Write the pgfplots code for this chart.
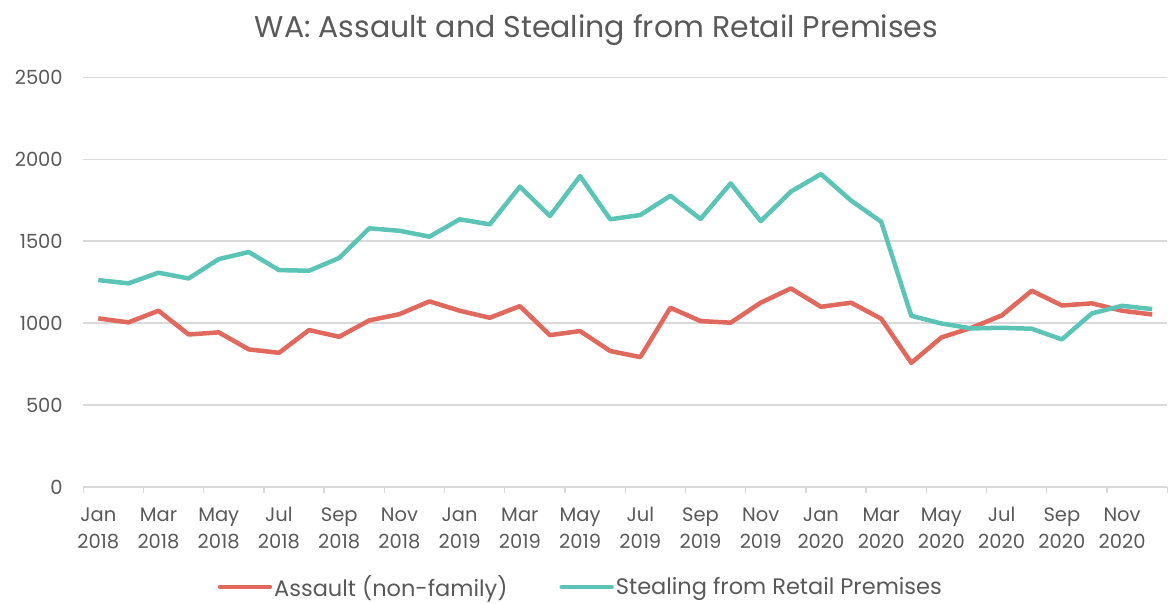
\documentclass[border=0pt]{standalone}
\usepackage{fontspec}
\setmainfont{Poppins}
\usepackage{pgfplots}
\pgfplotsset{compat=1.18}
\definecolor{redline}{RGB}{224,104,92}
\definecolor{tealline}{RGB}{91,196,183}
\definecolor{txtgray}{RGB}{89,89,89}
\definecolor{gridgray}{RGB}{217,217,217}
\begin{document}
\begin{tikzpicture}
\begin{axis}[
  at={(0pt,0pt)}, anchor=south west,
  scale only axis,
  width=1085pt, height=410pt,
  xmin=-0.5, xmax=35.5,
  ymin=0, ymax=2500,
  ytick={0,500,1000,1500,2000,2500},
  xtick={0,2,...,34},
  xticklabels={\strut Jan\\\strut 2018,\strut Mar\\\strut 2018,\strut May\\\strut 2018,\strut Jul\\\strut 2018,\strut Sep\\\strut 2018,\strut Nov\\\strut 2018,\strut Jan\\\strut 2019,\strut Mar\\\strut 2019,\strut May\\\strut 2019,\strut Jul\\\strut 2019,\strut Sep\\\strut 2019,\strut Nov\\\strut 2019,\strut Jan\\\strut 2020,\strut Mar\\\strut 2020,\strut May\\\strut 2020,\strut Jul\\\strut 2020,\strut Sep\\\strut 2020,\strut Nov\\\strut 2020},
  major tick length=0pt,
  extra x ticks={-0.5,1.5,...,35.5},
  extra x tick labels={},
  extra x tick style={major tick length=6pt, tick style={gridgray, line width=1.3pt}, tick align=outside, grid=none},
  axis x line*=bottom,
  axis y line*=left,
  y axis line style={draw=none},
  x axis line style={gridgray, line width=1.5pt, -},
  ymajorgrids,
  grid style={gridgray, line width=1.3pt},
  tick label style={font=\fontsize{19.5}{27}\selectfont, text=txtgray},
  xticklabel style={align=center, anchor=north, yshift=-16pt, inner sep=0pt},
  yticklabel style={xshift=-17pt},
  /pgf/number format/1000 sep={},
  /pgf/number format/assume math mode=true,
  title={WA: Assault and Stealing from Retail Premises},
  title style={at={(0.4735,1)}, anchor=center, yshift=41pt, font=\fontsize{30}{34}\selectfont, text=txtgray},
  legend style={at={(0.459,0)}, anchor=center, yshift=-100pt, draw=none, fill=none,
    font=\fontsize{22.5}{26}\selectfont, text=txtgray, legend columns=2,
    /tikz/every even column/.append style={column sep=50pt}},
  legend image code/.code={\draw[#1, line cap=round] (0pt,0pt) -- (50pt,0pt);},
  clip=false,
]
\addplot[redline, line width=4.5pt, line join=round] coordinates {
(0,1028)(1,1004)(2,1075)(3,930)(4,943)(5,839)(6,818)(7,957)(8,916)(9,1016)
(10,1054)(11,1132)(12,1075)(13,1032)(14,1103)(15,926)(16,951)(17,829)(18,792)(19,1093)
(20,1012)(21,1002)(22,1124)(23,1211)(24,1099)(25,1124)(26,1026)(27,757)(28,912)(29,971)
(30,1046)(31,1197)(32,1107)(33,1120)(34,1075)(35,1052)};
\addlegendentry{Assault (non-family)}
\addplot[tealline, line width=4.5pt, line join=round] coordinates {
(0,1262)(1,1242)(2,1307)(3,1272)(4,1390)(5,1433)(6,1323)(7,1319)(8,1397)(9,1578)
(10,1563)(11,1527)(12,1633)(13,1602)(14,1832)(15,1653)(16,1897)(17,1633)(18,1659)(19,1777)
(20,1635)(21,1852)(22,1622)(23,1802)(24,1909)(25,1747)(26,1618)(27,1044)(28,997)(29,967)
(30,971)(31,965)(32,900)(33,1059)(34,1105)(35,1085)};
\addlegendentry{Stealing from Retail Premises}
\end{axis}
\useasboundingbox (-83.3pt,-116.7pt) rectangle (1084.7pt,487.3pt);
\end{tikzpicture}
\end{document}
